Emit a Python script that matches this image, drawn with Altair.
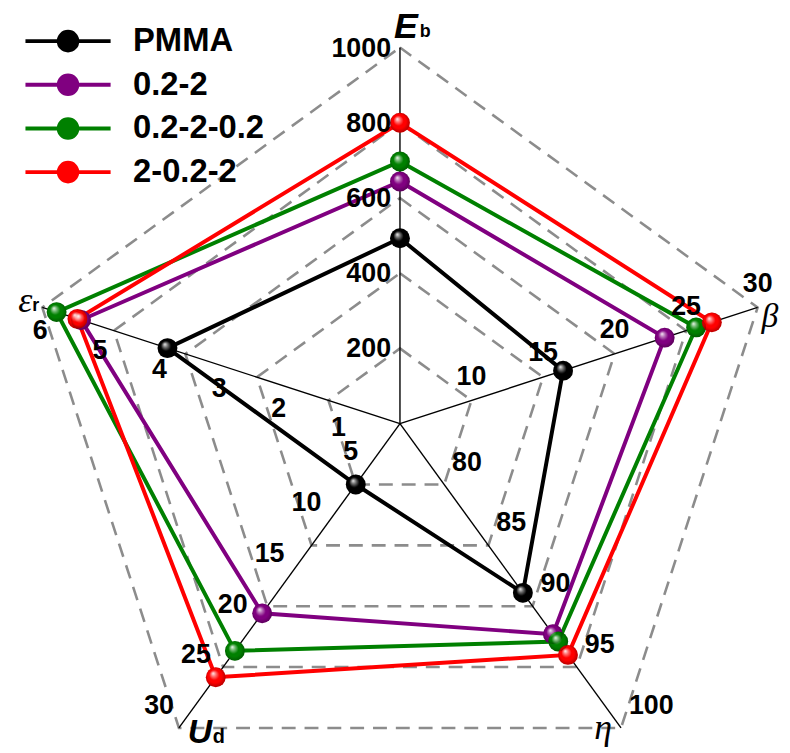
import math
import altair as alt
import pandas as pd

# ---------------- data ----------------
series = ["PMMA", "0.2-2", "0.2-2-0.2", "2-0.2-2"]
colors = ["#000000", "#800080", "#008000", "#ff0000"]

axis_keys = ["Eb", "beta", "eta", "Ud", "er"]
axis_angles = [90, 18, -54, -126, 162]
axis_min = [0, 5, 75, 0, 0]
axis_max = [1000, 30, 100, 30, 6]

Eb = [493, 644, 697, 800]
beta = [16.4, 23.5, 25.7, 26.8]
eta = [88.9, 92.3, 92.9, 94.0]
Ud = [6.0, 18.7, 22.4, 25.0]
er = [3.9, 5.35, 5.76, 5.41]

Eb_ticks = [200, 400, 600, 800, 1000]
beta_ticks = [10, 15, 20, 25, 30]
eta_ticks = [80, 85, 90, 95, 100]
Ud_ticks = [5, 10, 15, 20, 25, 30]
er_ticks = [1, 2, 3, 4, 5, 6]

grid_levels = [0.2, 0.4, 0.6, 0.8, 1.0]

values = {"Eb": Eb, "beta": beta, "eta": eta, "Ud": Ud, "er": er}
ticks = {"Eb": Eb_ticks, "beta": beta_ticks, "eta": eta_ticks, "Ud": Ud_ticks, "er": er_ticks}


def polar(i, frac):
    a = math.radians(axis_angles[i])
    return frac * math.cos(a), frac * math.sin(a)


def frac_of(i, v):
    return (v - axis_min[i]) / (axis_max[i] - axis_min[i])


# ---------------- tables ----------------
grid_rows = []
for lv in grid_levels:
    for i in range(len(axis_keys)):
        x, y = polar(i, lv)
        grid_rows.append({"level": lv, "idx": i, "x": x, "y": y})
grid_df = pd.DataFrame(grid_rows)

axis_rows = []
for i, k in enumerate(axis_keys):
    x, y = polar(i, 1.0)
    axis_rows.append({"axis": k, "x0": 0.0, "y0": 0.0, "x": x, "y": y})
axis_df = pd.DataFrame(axis_rows)

data_rows = []
for s_i, s in enumerate(series):
    for i, k in enumerate(axis_keys):
        x, y = polar(i, frac_of(i, values[k][s_i]))
        data_rows.append({"series": s, "idx": i, "x": x, "y": y, "order": s_i})
data_df = pd.DataFrame(data_rows)

tick_rows = []
for i, k in enumerate(axis_keys):
    for t in ticks[k]:
        x, y = polar(i, frac_of(i, t))
        tick_rows.append({"axis": k, "label": str(t), "x": x, "y": y})
tick_df = pd.DataFrame(tick_rows)

# ---------------- scales ----------------
R = 379.0
W, H = 780, 745
cx, cy = 395.0, 416.0  # centre inside plot area
xs = alt.Scale(domain=[-cx / R, (W - cx) / R], nice=False, zero=False)
ys = alt.Scale(domain=[-(H - cy) / R, cy / R], nice=False, zero=False)
X = lambda f: alt.X(f, type="quantitative", scale=xs, axis=None)
Y = lambda f: alt.Y(f, type="quantitative", scale=ys, axis=None)

SANS = "Liberation Sans, Arial, sans-serif"
SERIF = "Liberation Serif, Times New Roman, serif"

# ---------------- layers ----------------
grid = alt.Chart(grid_df).mark_line(
    interpolate="linear-closed", color="#8c8c8c", strokeWidth=2.6, strokeDash=[14, 9]
).encode(x=X("x"), y=Y("y"), detail="level:N", order="idx:Q")

axes = alt.Chart(axis_df).mark_rule(color="black", strokeWidth=1.4).encode(
    x=X("x0"), y=Y("y0"), x2="x", y2="y"
)

sym_path = ("M-3.9,0L-0.85,0M0.85,0L3.9,0M-0.85,0A0.85,0.85,0,1,1,0.85,0"
            "A0.85,0.85,0,1,1,-0.85,0Z")

legend = alt.Legend(
    title=None, orient="none", legendX=44, legendY=14,
    symbolType=sym_path, symbolSize=484, symbolStrokeWidth=4, symbolOpacity=1,
    labelFont=SANS, labelFontSize=33, labelFontWeight="bold", labelColor="black",
    labelOffset=49, rowPadding=9, padding=0, labelLimit=400,
)

cscale = alt.Scale(domain=series, range=colors)

lines = alt.Chart(data_df).mark_line(interpolate="linear-closed", strokeWidth=4).encode(
    x=X("x"), y=Y("y"), order="idx:Q",
    color=alt.Color("series:N", scale=cscale, legend=legend),
)

balls = alt.Chart(data_df).mark_point(
    shape="circle", filled=True, size=400, opacity=1, strokeWidth=0
).encode(
    x=X("x"), y=Y("y"),
    fill=alt.Fill("series:N", scale=cscale, legend=None),
)

shine = alt.RadialGradient(
    gradient="radial", x1=0.36, y1=0.3, r1=0.0, x2=0.5, y2=0.5, r2=0.55,
    stops=[
        alt.GradientStop(color="rgba(255,255,255,0.95)", offset=0.0),
        alt.GradientStop(color="rgba(255,255,255,0.45)", offset=0.22),
        alt.GradientStop(color="rgba(255,255,255,0)", offset=0.47),
        alt.GradientStop(color="rgba(0,0,0,0)", offset=0.65),
        alt.GradientStop(color="rgba(0,0,0,0.35)", offset=1.0),
    ],
)
gloss = alt.Chart(data_df).mark_point(
    shape="circle", filled=True, size=400, opacity=1, fill=shine, strokeWidth=0
).encode(x=X("x"), y=Y("y"))


def tick_layer(key, align, dx, dy):
    return alt.Chart(tick_df).transform_filter(alt.datum.axis == key).mark_text(
        font=SANS, fontSize=27, fontWeight="bold", color="black",
        align=align, baseline="middle", dx=dx, dy=dy,
    ).encode(x=X("x"), y=Y("y"), text="label:N")


tick_layers = [
    tick_layer("Eb", "right", -9, 1),
    tick_layer("beta", "center", 0, -24),
    tick_layer("eta", "left", 8, -22),
    tick_layer("Ud", "right", -5, -22),
    tick_layer("er", "center", -2, 24),
]


def title_layer(key, text, font, size, weight, style, align, dx, dy):
    return alt.Chart(axis_df).transform_filter(alt.datum.axis == key).mark_text(
        text=text, font=font, fontSize=size, fontWeight=weight, fontStyle=style,
        color="black", align=align, baseline="alphabetic", dx=dx, dy=dy,
    ).encode(x=X("x"), y=Y("y"))


titles = [
    title_layer("Eb", "E", SANS, 36, "bold", "italic", "left", -6, -10),
    title_layer("Eb", "b", SANS, 18, "bold", "normal", "left", 20, -11),
    title_layer("beta", "β", SERIF, 34, "normal", "italic", "left", 4, 20),
    title_layer("eta", "η", SERIF, 36, "normal", "italic", "center", -18, 11),
    title_layer("Ud", "U", SANS, 34, "bold", "italic", "left", 9, 15),
    title_layer("Ud", "d", SANS, 20, "bold", "normal", "left", 34, 15),
    title_layer("er", "ε", SERIF, 36, "normal", "italic", "right", -10, 5),
    title_layer("er", "r", SANS, 18, "bold", "normal", "left", -10, 4),
]

chart = alt.layer(grid, axes, lines, balls, gloss, *tick_layers, *titles).properties(
    width=W, height=H, padding=0, autosize=alt.AutoSizeParams(type="none"),
    background="white",
).configure_view(stroke=None)

chart.save("out.html", embed_options={"renderer": "svg", "actions": False})
